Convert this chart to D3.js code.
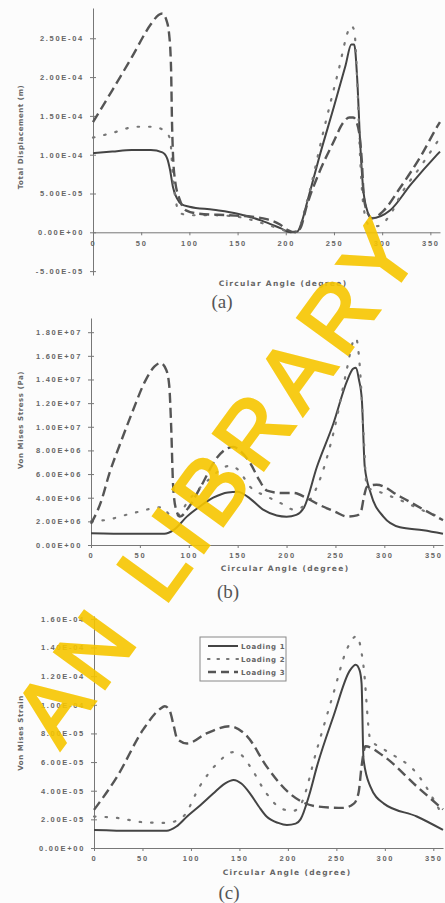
<!DOCTYPE html>
<html>
<head>
<meta charset="utf-8">
<script src="https://cdn.jsdelivr.net/npm/d3@7"></script>
<style>
body { margin: 0; background: #fcfcfc; }
svg { display: block; font-family: "DejaVu Sans", sans-serif; }
.tick text { fill: #666; font-size: 7.5px; font-weight: bold; letter-spacing: 1.7px; }
.domain, .tick line { stroke: #777; }
</style>
</head>
<body>
<svg id="chart" width="445" height="903"></svg>
<script>
// tick labels
var angleTicks = [0, 50, 100, 150, 200, 250, 300, 350];
var dispTicks = [-5e-5, 0, 5e-5, 1e-4, 1.5e-4, 2e-4, 2.5e-4];
var stressTicks = [0, 2e6, 4e6, 6e6, 8e6, 1e7, 1.2e7, 1.4e7, 1.6e7, 1.8e7];
var strainTicks = [0, 2e-5, 4e-5, 6e-5, 8e-5, 1e-4, 1.2e-4, 1.4e-4, 1.6e-4];
var loadNames = ["Loading 1", "Loading 2", "Loading 3"];

// (a) total displacement, [angle, value]
var disp1 = [[0,1.02e-4],[20,1.04e-4],[40,1.06e-4],[60,1.06e-4],[72,1.03e-4],[77,0.95e-4],[80,0.80e-4],[83,0.58e-4],[87,0.44e-4],[92,0.36e-4],[100,0.33e-4],[125,0.29e-4],[150,0.24e-4],[175,0.15e-4],[195,0.05e-4],[205,0],[212,0.01e-4],[217,0.15e-4],[222,0.38e-4],[235,0.98e-4],[250,1.62e-4],[262,2.15e-4],[268,2.42e-4],[271,2.42e-4],[274,2.0e-4],[277,1.2e-4],[280,0.6e-4],[284,0.3e-4],[289,0.18e-4],[308,0.28e-4],[330,0.62e-4],[357,1.0e-4],[360,1.04e-4]];
var disp2 = [[0,1.22e-4],[20,1.28e-4],[45,1.36e-4],[62,1.36e-4],[75,1.3e-4],[80,1.2e-4],[83,0.7e-4],[86,0.4e-4],[90,0.25e-4],[100,0.22e-4],[125,0.22e-4],[150,0.2e-4],[175,0.12e-4],[195,0.04e-4],[205,0],[212,0.02e-4],[222,0.4e-4],[240,1.35e-4],[255,2.1e-4],[265,2.6e-4],[268,2.66e-4],[271,2.6e-4],[274,2.0e-4],[277,1.0e-4],[281,0.3e-4],[286,0.1e-4],[295,0.08e-4],[308,0.22e-4],[320,0.5e-4],[340,0.85e-4],[360,1.22e-4]];
var disp3 = [[0,1.42e-4],[20,1.83e-4],[40,2.25e-4],[60,2.68e-4],[68,2.8e-4],[72,2.82e-4],[76,2.74e-4],[79,2.55e-4],[81,2.1e-4],[82,1.4e-4],[83,1.0e-4],[85,0.68e-4],[90,0.42e-4],[97,0.28e-4],[110,0.24e-4],[140,0.22e-4],[165,0.2e-4],[180,0.17e-4],[194,0.1e-4],[202,0.03e-4],[210,0],[215,0.05e-4],[222,0.35e-4],[235,0.78e-4],[249,1.15e-4],[260,1.42e-4],[266,1.48e-4],[270,1.48e-4],[274,1.4e-4],[277,1.2e-4],[279,0.9e-4],[281,0.45e-4],[285,0.25e-4],[290,0.18e-4],[300,0.26e-4],[319,0.58e-4],[340,0.98e-4],[358,1.38e-4],[360,1.42e-4]];

// (b) von mises stress
var stress1 = [[0,1.0e6],[40,0.95e6],[75,0.95e6],[85,1.3e6],[98,2.4e6],[112,3.3e6],[125,4.0e6],[140,4.45e6],[150,4.5e6],[160,4.1e6],[176,3.0e6],[190,2.5e6],[200,2.4e6],[210,2.55e6],[218,3.2e6],[231,6.6e6],[248,10.3e6],[262,13.9e6],[268,14.9e6],[271,15.0e6],[274,14.0e6],[277,12.3e6],[280,6.6e6],[286,4.4e6],[299,2.4e6],[316,1.5e6],[340,1.25e6],[360,0.95e6]];
var stress2 = [[0,2.0e6],[14,2.1e6],[43,2.7e6],[74,3.2e6],[80,2.6e6],[88,2.5e6],[100,3.8e6],[120,5.5e6],[142,6.7e6],[150,6.4e6],[163,4.9e6],[180,4.1e6],[195,3.5e6],[207,3.0e6],[218,3.3e6],[231,4.9e6],[248,9.5e6],[262,15.0e6],[268,17.2e6],[271,17.5e6],[275,15.0e6],[279,9.0e6],[282,4.9e6],[298,4.4e6],[316,3.8e6],[346,2.7e6],[360,2.3e6]];
var stress3 = [[0,1.8e6],[10,3.6e6],[19,6.1e6],[30,8.6e6],[43,11.4e6],[55,13.8e6],[65,15.1e6],[71,15.4e6],[77,14.8e6],[80,13.5e6],[82,10e6],[84,5.0e6],[87,3.0e6],[91,2.4e6],[100,3.2e6],[112,4.9e6],[129,7.4e6],[140,8.2e6],[146,8.3e6],[152,8.0e6],[163,6.9e6],[172,5.5e6],[180,4.6e6],[195,4.4e6],[207,4.4e6],[220,4.0e6],[231,3.5e6],[250,2.8e6],[262,2.4e6],[272,2.5e6],[276,2.8e6],[279,4.0e6],[282,4.9e6],[292,5.1e6],[316,4.1e6],[340,3.0e6],[360,2.1e6]];

// (c) von mises strain
var strain1 = [[0,1.26e-5],[40,1.2e-5],[75,1.2e-5],[85,1.5e-5],[96,2.2e-5],[110,3.0e-5],[123,3.8e-5],[135,4.5e-5],[144,4.75e-5],[152,4.5e-5],[161,3.8e-5],[170,2.9e-5],[178,2.2e-5],[190,1.75e-5],[199,1.6e-5],[208,1.7e-5],[213,2.0e-5],[222,3.7e-5],[230,5.7e-5],[247,9.2e-5],[264,12.4e-5],[270,12.8e-5],[274,12.4e-5],[276,11.5e-5],[278,6.2e-5],[285,4.3e-5],[299,3.1e-5],[333,2.2e-5],[360,1.26e-5]];
var strain2 = [[0,2.2e-5],[24,2.1e-5],[51,1.8e-5],[75,1.75e-5],[92,2.2e-5],[109,4.3e-5],[127,5.9e-5],[144,6.7e-5],[152,6.5e-5],[161,5.7e-5],[178,3.8e-5],[195,2.7e-5],[206,2.6e-5],[213,3.0e-5],[230,6.9e-5],[247,10.8e-5],[261,13.9e-5],[271,14.8e-5],[278,12.7e-5],[285,7.6e-5],[299,6.9e-5],[333,5.2e-5],[360,2.2e-5]];
var strain3 = [[0,2.66e-5],[24,5.0e-5],[51,8.3e-5],[68,9.7e-5],[73,9.9e-5],[78,9.6e-5],[82,8.6e-5],[86,7.6e-5],[96,7.3e-5],[116,8.0e-5],[140,8.5e-5],[158,7.8e-5],[178,5.7e-5],[202,3.8e-5],[230,2.9e-5],[257,2.8e-5],[268,3.1e-5],[273,3.9e-5],[276,5.7e-5],[280,7.1e-5],[299,6.4e-5],[333,4.3e-5],[360,2.7e-5]];

var svg = d3.select("#chart");

// line looks for the three loadings
var styles = [
    { stroke: "#444", width: 2, dash: null, cap: "butt" },
    { stroke: "#777", width: 2.2, dash: "1.5,10", cap: "round" },
    { stroke: "#555", width: 2.4, dash: "10,5", cap: "butt" }
];

// 2.50E-04 style labels
function sci(v) {
    var p = v.toExponential(2).split("e");
    var e = p[1];
    return p[0] + "E" + e[0] + e.slice(1).padStart(2, "0");
}

function panel(o) {
    var x = d3.scaleLinear().domain([0, 360]).range([o.left, o.right]);
    var y = d3.scaleLinear().domain(o.dom).range([o.bottom, o.top]);

    var ya = svg.append("g").attr("transform", "translate(" + o.left + ",0)")
        .call(d3.axisLeft(y).tickValues(o.ticks).tickFormat(sci).tickSize(3).tickSizeOuter(0).tickPadding(6));
    ya.selectAll(".tick line").attr("x1", 3);

    svg.append("g").attr("transform", "translate(0," + y(0) + ")")
        .call(d3.axisBottom(x).tickValues(angleTicks).tickSize(3).tickSizeOuter(0).tickPadding(5));

    var line = d3.line().x(function (d) { return x(d[0]); }).y(function (d) { return y(d[1]); })
        .curve(d3.curveMonotoneX);

    o.series.forEach(function (s, i) {
        var st = styles[i];
        svg.append("path").attr("d", line(s)).attr("fill", "none")
            .attr("stroke", st.stroke).attr("stroke-width", st.width)
            .attr("stroke-dasharray", st.dash).attr("stroke-linecap", st.cap);
    });

    svg.append("text").attr("x", o.xlab[0]).attr("y", o.xlab[1]).attr("text-anchor", "middle")
        .attr("font-size", 7.5).attr("font-weight", "bold").attr("letter-spacing", 1.3).attr("fill", "#666")
        .text("Circular Angle (degree)");
    svg.append("text").attr("transform", "translate(" + o.ylab[0] + "," + o.ylab[1] + ") rotate(-90)")
        .attr("text-anchor", "middle").attr("font-size", 7).attr("font-weight", "bold")
        .attr("letter-spacing", 0.6).attr("fill", "#666").text(o.ytitle);
    svg.append("text").attr("x", o.cap[0]).attr("y", o.cap[1]).attr("text-anchor", "middle")
        .attr("font-family", "Liberation Serif").attr("font-size", 19).attr("fill", "#555").text(o.letter);
    return { x: x, y: y };
}

panel({ left: 93, right: 440, top: 8, bottom: 275, dom: [-5.5e-5, 2.89e-4], ticks: dispTicks,
    series: [disp1, disp2, disp3], xlab: [283, 286], ylab: [23, 137], cap: [222, 308],
    ytitle: "Total Displacement (m)", letter: "(a)" });
panel({ left: 91, right: 443, top: 318, bottom: 545, dom: [0, 1.92e7], ticks: stressTicks,
    series: [stress1, stress2, stress3], xlab: [285, 571], ylab: [23, 420], cap: [228, 598],
    ytitle: "Von Mises Stress (Pa)", letter: "(b)" });
panel({ left: 94, right: 443, top: 616, bottom: 848, dom: [0, 1.62e-4], ticks: strainTicks,
    series: [strain1, strain2, strain3], xlab: [287, 875], ylab: [23, 733], cap: [229, 899],
    ytitle: "Von Mises Strain", letter: "(c)" });

// legend in (c)
var lg = svg.append("g").attr("transform", "translate(200,637)");
lg.append("rect").attr("width", 86).attr("height", 44).attr("fill", "#fdfdfd").attr("stroke", "#888").attr("stroke-width", 1);
loadNames.forEach(function (n, i) {
    var st = styles[i];
    var yy = 9 + i * 13;
    lg.append("line").attr("x1", 8).attr("x2", 38).attr("y1", yy).attr("y2", yy)
        .attr("stroke", st.stroke).attr("stroke-width", st.width)
        .attr("stroke-dasharray", i == 1 ? "1.5,8" : (i == 2 ? "8,5" : null)).attr("stroke-linecap", st.cap);
    lg.append("text").attr("x", 41).attr("y", yy + 2.5).attr("font-size", 7).attr("font-weight", "bold")
        .attr("letter-spacing", 0.6).attr("fill", "#666").text(n);
});

// library watermark
svg.append("text").attr("transform", "translate(60,750) rotate(-54)")
    .attr("font-family", "Liberation Sans").attr("font-size", 90).attr("letter-spacing", 9)
    .attr("fill", "#f7c600").attr("stroke", "#f7c600").attr("stroke-width", 3)
    .attr("opacity", 0.9).text("AN LIBRARY");
</script>
</body>
</html>
